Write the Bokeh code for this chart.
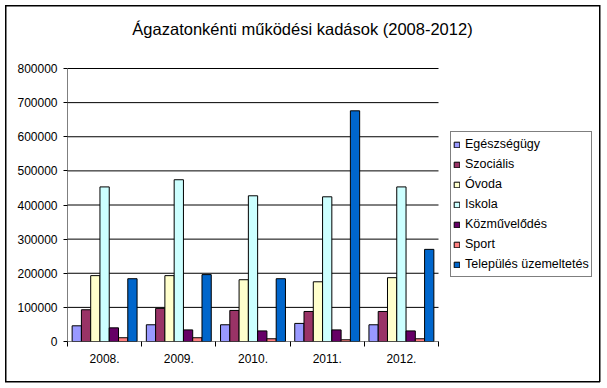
import numpy as np
from bokeh.plotting import figure
from bokeh.models import (ColumnDataSource, FixedTicker, Legend, LegendItem, Label,
                          NumeralTickFormatter, Range1d)
from bokeh.embed import file_html
from bokeh.resources import INLINE

title_text = "Ágazatonkénti működési kadások (2008-2012)"
years = ["2008.", "2009.", "2010.", "2011.", "2012."]
series = ["Egészségügy", "Szociális", "Óvoda", "Iskola", "Közművelődés", "Sport",
          "Település üzemeltetés"]
egeszsegugy = [46000, 49000, 49000, 53000, 49000]
szocialis = [93000, 97000, 91000, 88000, 88000]
ovoda = [193000, 193000, 181000, 175000, 187000]
iskola = [453000, 474000, 427000, 424000, 453000]
kozmuvelodes = [40000, 34000, 31000, 34000, 31000]
sport = [11000, 11000, 8000, 5000, 8000]
telepules = [184000, 196000, 184000, 676000, 270000]
y_ticks = [0, 100000, 200000, 300000, 400000, 500000, 600000, 700000, 800000]

values = [egeszsegugy, szocialis, ovoda, iskola, kozmuvelodes, sport, telepules]
colors = ["#9999FF", "#993366", "#FFFFCC", "#CCFFFF", "#660066", "#FF8080", "#0066CC"]

FONT = "Liberation Sans"
W, H = 604, 386
FL, FR, FT, FB = 67, 438, 68, 341  # plotting-area edges (px)
FR_EXT, FT_EXT = 600, 4            # frame extended so legend and title live inside it
TITLE_CX, TITLE_CY = 302, 28       # title centre (px)

ncat = len(years)
ymax = y_ticks[-1]
x_end = ncat * (FR_EXT - FL) / (FR - FL)
y_end = ymax * (FB - FT_EXT) / (FB - FT)

p = figure(width=W, height=H, output_backend="svg", toolbar_location=None,
           x_range=Range1d(0, x_end), y_range=Range1d(0, y_end),
           min_border_left=FL, min_border_right=W - FR_EXT, min_border_top=FT_EXT,
           min_border_bottom=H - FB)
p.background_fill_alpha = 0
p.border_fill_alpha = 0
p.outline_line_color = None
g = "linear-gradient(#000,#000)"
p.stylesheets = [
    ":host { background-color: white;"
    f" background-image: {g}, {g}, {g}, {g};"
    " background-size: 1.5px 377px, 1.5px 377px, 595px 1.5px, 595px 1.5px;"
    " background-position: 5px 4.5px, 598.5px 4.5px, 5px 4.5px, 5px 380.5px;"
    " background-repeat: no-repeat; }"
]

# horizontal gridlines over the category span only, plus the value-axis line
p.xgrid.grid_line_color = None
p.ygrid.grid_line_color = None
p.segment(x0=[0] * len(y_ticks), x1=[ncat] * len(y_ticks), y0=y_ticks, y1=y_ticks,
          line_color="black", line_width=1)
p.segment(x0=[0], x1=[0], y0=[0], y1=[ymax], line_color="black", line_width=1)

n = len(series)
bw = 1.0 / (n + 1)
centers = np.arange(ncat) + 0.5
items = []
for j, (name, vals, col) in enumerate(zip(series, values, colors)):
    src = ColumnDataSource(dict(x=centers + (j - (n - 1) / 2) * bw, top=vals))
    r = p.vbar(x="x", top="top", width=bw, bottom=0, source=src,
               fill_color=col, line_color="black", line_width=1)
    items.append(LegendItem(label=name, renderers=[r]))

yax = p.yaxis[0]
yax.ticker = FixedTicker(ticks=y_ticks)
yax.formatter = NumeralTickFormatter(format="0")
yax.axis_line_color = None
yax.major_tick_line_color = "black"
yax.major_tick_out = 4
yax.major_tick_in = 0
yax.minor_tick_line_color = None
yax.major_label_text_font = FONT
yax.major_label_text_font_size = "12px"
yax.major_label_text_color = "black"
yax.major_label_standoff = 6

xax = p.xaxis[0]
xax.ticker = FixedTicker(ticks=list(centers), minor_ticks=list(range(ncat + 1)))
xax.major_label_overrides = {float(c): y for c, y in zip(centers, years)}
xax.axis_line_color = None
xax.major_tick_out = 0
xax.major_tick_in = 0
xax.minor_tick_out = 5
xax.minor_tick_in = 0
xax.minor_tick_line_color = "black"
xax.major_label_text_font = FONT
xax.major_label_text_font_size = "12px"
xax.major_label_text_color = "black"
xax.major_label_standoff = 7

legend = Legend(items=items, location=(383, 64), orientation="vertical",
                label_text_font=FONT, label_text_font_size="12.5px",
                label_text_color="black", label_height=20, label_standoff=5,
                glyph_width=7, glyph_height=7, spacing=0, padding=2, margin=0,
                border_line_color="black", border_line_width=1,
                background_fill_color="white", background_fill_alpha=1)
p.add_layout(legend)

title = Label(x=ncat * (TITLE_CX - FL) / (FR - FL),
              y=ymax * (FB - TITLE_CY) / (FB - FT),
              text=title_text, text_font=FONT, text_font_size="16.5px",
              text_align="center", text_baseline="middle", text_color="black")
p.add_layout(title)

open("out.html", "w").write(file_html(p, INLINE))
